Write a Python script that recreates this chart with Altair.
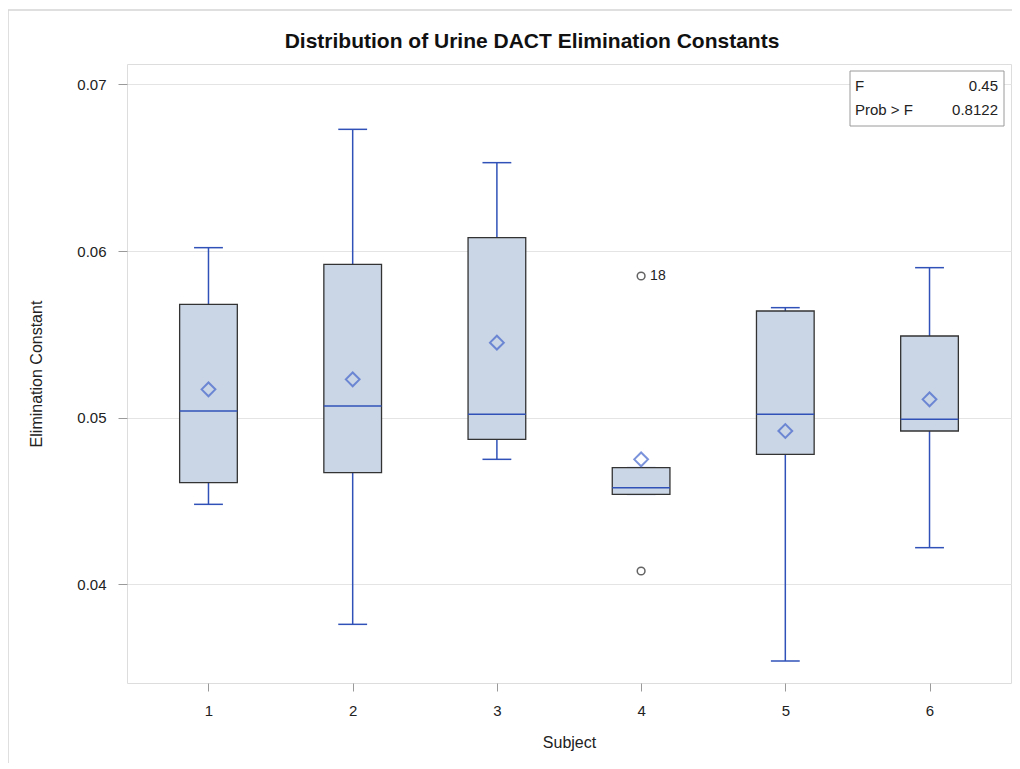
import altair as alt
import pandas as pd

subjects = [1, 2, 3, 4, 5, 6]
lower = [0.0448, 0.0376, 0.0475, 0.0454, 0.0354, 0.0422]
q1 = [0.0461, 0.0467, 0.0487, 0.0454, 0.0478, 0.0492]
median = [0.0504, 0.0507, 0.0502, 0.0458, 0.0502, 0.0499]
q3 = [0.0568, 0.0592, 0.0608, 0.0470, 0.0564, 0.0549]
upper = [0.0602, 0.0673, 0.0653, 0.0470, 0.0566, 0.0590]
mean = [0.0517, 0.0523, 0.0545, 0.0475, 0.0492, 0.0511]

outlier_subject = [4, 4]
outlier_value = [0.0585, 0.0408]
outlier_label = ["18", ""]

stat_names = ["F", "Prob > F"]
stat_values = ["0.45", "0.8122"]

title_text = ["Distribution of Urine DACT Elimination Constants"]

FONT = "Liberation Sans"
BLUE = "#3052B8"
FILL = "#CAD5E5"

df = pd.DataFrame({"subject": subjects, "lower": lower, "q1": q1, "median": median,
                   "q3": q3, "upper": upper, "mean": mean})
df_out = pd.DataFrame({"subject": outlier_subject, "value": outlier_value, "label": outlier_label})
df_stats = pd.DataFrame({"name": stat_names, "val": stat_values, "row": [0, 1]})
df_title = pd.DataFrame({"t": title_text})

xs = alt.Scale(domain=[0.435, 6.565], nice=False, zero=False)
ys = alt.Scale(domain=[0.03408, 0.07122], nice=False, zero=False)

xax = alt.Axis(values=subjects, title="Subject", format="d", grid=False, domain=False,
               tickColor="#9a9a9a", tickSize=8, labelFontSize=15, titleFontSize=16,
               labelPadding=12, titlePadding=16, labelColor="#222", titleColor="#222",
               labelFont=FONT, titleFont=FONT, titleFontWeight="normal")
yax = alt.Axis(values=[0.04, 0.05, 0.06, 0.07], title="Elimination Constant", format=".2f",
               grid=True, gridColor="#e4e4e4", domain=False, tickColor="#9a9a9a", tickSize=9,
               labelFontSize=15, titleFontSize=16, labelPadding=12, titlePadding=32,
               labelColor="#222", titleColor="#222", labelFont=FONT, titleFont=FONT,
               titleFontWeight="normal")

base = alt.Chart(df).transform_calculate(
    lo=alt.datum.subject - 0.2, hi=alt.datum.subject + 0.2,
    clo=alt.datum.subject - 0.1, chi=alt.datum.subject + 0.1)

whisk_lo = base.mark_rule(color=BLUE, strokeWidth=1.5).encode(
    x=alt.X("subject:Q", scale=xs, axis=xax),
    y=alt.Y("lower:Q", scale=ys, axis=yax), y2="q1:Q")
whisk_hi = base.mark_rule(color=BLUE, strokeWidth=1.5).encode(
    x=alt.X("subject:Q", scale=xs), y=alt.Y("q3:Q", scale=ys), y2="upper:Q")
cap_lo = base.mark_rule(color=BLUE, strokeWidth=1.5).encode(
    x=alt.X("clo:Q", scale=xs), x2="chi:Q", y=alt.Y("lower:Q", scale=ys))
cap_hi = base.mark_rule(color=BLUE, strokeWidth=1.5).encode(
    x=alt.X("clo:Q", scale=xs), x2="chi:Q", y=alt.Y("upper:Q", scale=ys))
box = base.mark_rect(fill=FILL, stroke="#333333", strokeWidth=1.3).encode(
    x=alt.X("lo:Q", scale=xs), x2="hi:Q", y=alt.Y("q1:Q", scale=ys), y2="q3:Q")
med = base.mark_rule(color=BLUE, strokeWidth=1.5).encode(
    x=alt.X("lo:Q", scale=xs), x2="hi:Q", y=alt.Y("median:Q", scale=ys))
mn = base.mark_point(shape="diamond", filled=False, color="#4466CC", size=190, strokeWidth=2).encode(
    x=alt.X("subject:Q", scale=xs), y=alt.Y("mean:Q", scale=ys))

out_pts = alt.Chart(df_out).mark_point(shape="circle", filled=False, color="#222", size=60,
                                       strokeWidth=1.5).encode(
    x=alt.X("subject:Q", scale=xs), y=alt.Y("value:Q", scale=ys))
out_txt = alt.Chart(df_out).mark_text(align="left", dx=9, fontSize=14, font=FONT, color="#222").encode(
    x=alt.X("subject:Q", scale=xs), y=alt.Y("value:Q", scale=ys), text="label:N")

inset_box = alt.Chart(df_title).mark_rect(fill="white", stroke="#9a9a9a", strokeWidth=1).encode(
    x=alt.value(723), x2=alt.value(877), y=alt.value(7), y2=alt.value(62))
inset_layers = []
for r, ypix in [(0, 22), (1, 46)]:
    src = alt.Chart(df_stats).transform_filter(alt.datum.row == r)
    inset_layers.append(src.mark_text(align="left", baseline="middle", fontSize=15,
                                      font=FONT, color="#222").encode(
        x=alt.value(728), y=alt.value(ypix), text="name:N"))
    inset_layers.append(src.mark_text(align="right", baseline="middle", fontSize=15,
                                      font=FONT, color="#222").encode(
        x=alt.value(871), y=alt.value(ypix), text="val:N"))

title_mark = alt.Chart(df_title).mark_text(align="center", baseline="middle", fontSize=21,
                                           fontWeight="bold", font=FONT, color="#111").encode(
    x=alt.value(405), y=alt.value(-22), text="t:N")

border_l = alt.Chart(df_title).mark_rule(color="#d4d4d4", strokeWidth=1.5).encode(
    x=alt.value(-119), y=alt.value(-54), y2=alt.value(720))
border_t = alt.Chart(df_title).mark_rule(color="#d4d4d4", strokeWidth=1.5).encode(
    x=alt.value(-123), x2=alt.value(900), y=alt.value(-54))

chart = alt.layer(
    border_l, border_t, title_mark,
    whisk_lo, whisk_hi, cap_lo, cap_hi, box, med, mn, out_pts, out_txt,
    inset_box, *inset_layers
).properties(
    width=884, height=619,
    autosize=alt.AutoSizeParams(type="none"),
    padding={"left": 119, "top": 56, "right": 1, "bottom": 80},
).configure_view(stroke="#a8a8a8", strokeWidth=2).configure(background="white")

chart.save("out.html", embed_options={"renderer": "svg", "actions": False})
